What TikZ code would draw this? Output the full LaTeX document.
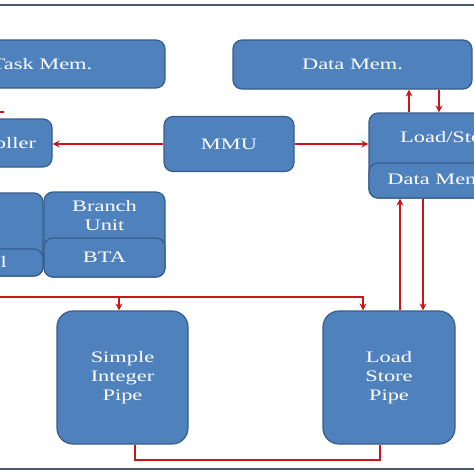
\documentclass[tikz,border=0pt]{standalone}
\usepackage{fontspec}
\setmainfont[FakeStretch=1.4]{Liberation Serif}
\usetikzlibrary{arrows.meta}
\definecolor{boxfill}{HTML}{4F81BD}
\definecolor{boxline}{HTML}{385D8A}
\definecolor{wirered}{HTML}{C8161D}
\definecolor{rulegray}{HTML}{4B5B6B}
\tikzset{
  blk/.style={draw=boxline, fill=boxfill, line width=1.2pt, rounded corners=9pt,
    text=white, align=center, inner sep=0pt, font=\fontsize{16}{19}\selectfont},
  pipe/.style={blk, rounded corners=16pt, minimum width=131pt, minimum height=133pt},
  lbl/.style={text=white, align=center, inner sep=0pt, font=\fontsize{16}{19}\selectfont},
  wire/.style={draw=wirered, line width=1.8pt},
  wirearrow/.style={wire, -{Stealth[length=7pt,width=7pt]}}
}
\begin{document}
\begin{tikzpicture}[x=1pt, y=-1pt]
\useasboundingbox (0,0) rectangle (474,474);
\fill[white] (0,0) rectangle (474,474);
\clip (0,0) rectangle (474,474);

\draw[rulegray, line width=2.5pt] (0,5) -- (474,5);
\draw[rulegray, line width=2.5pt] (0,469) -- (474,469);

% memories and controller
\node[blk, minimum width=246pt, minimum height=48pt] (taskmem) at (42,64) {Task Mem.};
\node[blk, minimum width=239pt, minimum height=49pt] (datamem) at (352.5,64.5) {Data Mem.};
\node[blk, minimum width=124pt, minimum height=48pt] (ctrl) at (-10,143) {Controller};
\node[blk, minimum width=130pt, minimum height=55pt] (mmu) at (229,144) {MMU};

\node[blk, minimum width=162pt, minimum height=85pt] (ls) at (450,155.5) {};
\node[blk, minimum width=162pt, minimum height=35pt] (lsdm) at (450,180.5) {Data Memory};
\node[lbl] (lstxt) at (450,137) {Load/Store};

% units
\node[blk, minimum width=123pt, minimum height=83pt] (unitL) at (-18.5,234.5) {};
\node[blk, minimum width=123pt, minimum height=27pt] (unitLb) at (-18.5,262.5) {};
\node[lbl, anchor=east] (unitLtxt) at (7,262) {l};
\node[blk, minimum width=121pt, minimum height=85pt] (branch) at (104.5,234.5) {};
\node[blk, minimum width=121pt, minimum height=39pt] (bta) at (104.5,257.5) {BTA};
\node[lbl] (brtxt) at (104.5,215.5) {Branch\\Unit};

% pipes
\node[pipe] (sip) at (122.5,377.5) {Simple\\Integer\\Pipe};
\node[pipe, minimum width=132pt] (lsp) at (389,377.5) {Load\\Store\\Pipe};

% connectors
\coordinate (stub) at (4,112);
\draw[wire] (stub) -- ++(-14,0);
\draw[wirearrow] (mmu.west) -- (ctrl.east |- mmu.west);
\draw[wirearrow] (mmu.east) -- (ls.west |- mmu.east);

\draw[wirearrow] ([xshift=-41pt]ls.north) -- ([xshift=-41pt]ls.north |- datamem.south);
\draw[wirearrow] ([xshift=-11pt]datamem.south -| ls.north) -- ([xshift=-11pt]ls.north);

\draw[wirearrow] ([xshift=11pt]lsp.north) -- ([xshift=11pt]lsp.north |- ls.south);
\draw[wirearrow] ([xshift=34pt]ls.south -| lsp.north) -- ([xshift=34pt]lsp.north);

\coordinate (busL) at (-10,297);
\draw[wirearrow] (busL) -| ([xshift=-26pt]lsp.north);
\draw[wirearrow] ([xshift=-3.5pt]sip.north |- busL) -- ([xshift=-3.5pt]sip.north);

\draw[wire] ([xshift=12.5pt]sip.south) -- ++(0,15) -| ([xshift=-9pt]lsp.south);
\end{tikzpicture}
\end{document}
